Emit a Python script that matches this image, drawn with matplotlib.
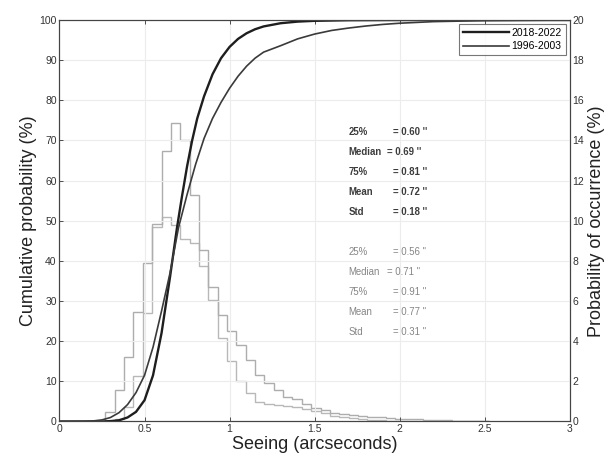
import numpy as np
import matplotlib
matplotlib.use("Agg")
import matplotlib.pyplot as plt

plt.rcParams["font.family"] = ["Liberation Sans", "DejaVu Sans"]

# --- histogram (probability of occurrence, %, right axis) ---
bin_edges = [0.27, 0.325, 0.38, 0.435, 0.49, 0.545, 0.60, 0.655, 0.71, 0.765,
             0.82, 0.875, 0.93, 0.985, 1.04, 1.095, 1.15, 1.205, 1.26, 1.315,
             1.37, 1.425, 1.48, 1.535, 1.59, 1.645, 1.70, 1.755, 1.81, 1.865,
             1.92, 1.975, 2.03, 2.085, 2.14, 2.195, 2.25, 2.305, 2.36, 2.415,
             2.47, 2.525]
hist_a = [0.48, 1.56, 3.22, 5.46, 7.88, 9.84, 13.48, 14.86, 14.02, 11.28,
          8.54, 6.72, 5.30, 4.50, 3.80, 3.06, 2.32, 1.92, 1.56, 1.24,
          1.12, 0.88, 0.68, 0.56, 0.44, 0.36, 0.30, 0.26, 0.22, 0.20,
          0.18, 0.14, 0.12, 0.10, 0.08, 0.06, 0.05, 0.04, 0.03, 0.02,
          0.01]
hist_b = [0.0, 0.10, 0.70, 2.28, 5.40, 9.70, 10.20, 9.80, 9.10, 8.90,
          7.76, 6.06, 4.14, 3.00, 2.00, 1.42, 0.98, 0.88, 0.80, 0.76,
          0.72, 0.60, 0.50, 0.40, 0.28, 0.22, 0.16, 0.12, 0.08, 0.06,
          0.04, 0.02, 0.0, 0.0, 0.0, 0.0, 0.0, 0.0, 0.0, 0.0,
          0.0]

# --- cumulative probability (%, left axis) ---
cum_x_new = [0, 0.25, 0.30, 0.35, 0.40, 0.45, 0.50, 0.55, 0.60, 0.65, 0.69,
             0.72, 0.75, 0.78, 0.81, 0.85, 0.90, 0.95, 1.00, 1.05, 1.10,
             1.15, 1.20, 1.30, 1.40, 1.50, 1.70, 2.0, 3.0]
cum_y_new = [0, 0, 0.1, 0.3, 1.0, 2.4, 5.3, 11.5, 22, 36, 48,
             56, 63.5, 70, 75.5, 81, 86.5, 90.5, 93.3, 95.3, 96.7,
             97.7, 98.4, 99.2, 99.6, 99.8, 99.95, 100, 100]
cum_x_old = [0, 0.15, 0.20, 0.25, 0.30, 0.35, 0.40, 0.45, 0.50, 0.55, 0.60,
             0.65, 0.70, 0.75, 0.80, 0.85, 0.90, 0.95, 1.00, 1.05, 1.10,
             1.15, 1.20, 1.30, 1.40, 1.50, 1.60, 1.70, 1.80, 1.90, 2.00,
             2.20, 2.50, 3.0]
cum_y_old = [0, 0.05, 0.15, 0.4, 1.0, 2.2, 4.2, 7.2, 11.5, 18.5, 27.5,
             37, 48.3, 56.5, 64, 70.5, 75.5, 79.5, 83, 86, 88.5,
             90.5, 92, 93.6, 95.3, 96.5, 97.4, 98, 98.5, 98.9, 99.2,
             99.6, 99.85, 100]

labels = ["2018-2022", "1996-2003"]
stat_names = ["25%", "Median", "75%", "Mean", "Std"]
stats_new = ["0.60", "0.69", "0.81", "0.72", "0.18"]
stats_old = ["0.56", "0.71", "0.91", "0.77", "0.31"]

fig = plt.figure(figsize=(6.1, 4.59), dpi=100)
ax = fig.add_axes([0.0975, 0.0817, 0.8365, 0.8747])
ax2 = ax.twinx()

grid_c = "#ececec"
ax.set_xlim(0, 3)
ax.set_ylim(0, 100)
ax2.set_ylim(0, 20)
ax.set_xticks([0, 0.5, 1, 1.5, 2, 2.5, 3])
ax.set_xticklabels(["0", "0.5", "1", "1.5", "2", "2.5", "3"])
ax.set_yticks(range(0, 101, 10))
ax2.set_yticks(range(0, 21, 2))
ax.grid(True, color=grid_c, lw=0.8)
ax.set_axisbelow(True)

# histograms
ax2.stairs(hist_b, bin_edges, baseline=0, color="#b8b8b8", lw=1.0)
ax2.stairs(hist_a, bin_edges, baseline=0, color="#adadad", lw=1.0)

# cumulative curves
ax.set_zorder(ax2.get_zorder() + 1)
ax.patch.set_visible(False)
ax.plot(cum_x_new, cum_y_new, color="#1e1e1e", lw=1.7, label=labels[0])
ax.plot(cum_x_old, cum_y_old, color="#3a3a3a", lw=1.2, label=labels[1])

leg = ax.legend(loc="upper right", fontsize=7.5, frameon=True, fancybox=False,
                borderaxespad=0.4, handlelength=4.4, handletextpad=0.3,
                borderpad=0.35, labelspacing=0.35)
leg.get_frame().set_edgecolor("#555555")
leg.get_frame().set_linewidth(0.8)

# statistics text
for i, (nm, v) in enumerate(zip(stat_names, stats_new)):
    y = 72.2 - 5 * i
    ax.text(1.70, y, nm, fontsize=6.9, color="#3c3c3c", fontweight="bold", va="center")
    ax.text(1.925 if nm == "Median" else 1.96, y, "= " + v + " ''", fontsize=6.9,
            color="#3c3c3c", fontweight="bold", va="center")
for i, (nm, v) in enumerate(zip(stat_names, stats_old)):
    y = 42.3 - 5 * i
    ax.text(1.70, y, nm, fontsize=6.9, color="#858585", va="center")
    ax.text(1.925 if nm == "Median" else 1.96, y, "= " + v + " ''", fontsize=6.9,
            color="#858585", va="center")

for a in (ax, ax2):
    a.tick_params(direction="in", length=3, width=0.6, labelsize=7.5,
                  colors="#333333", pad=2)
    for s in a.spines.values():
        s.set_color("#444444")
        s.set_linewidth(0.8)
ax.tick_params(top=True)

ax.set_xlabel("Seeing (arcseconds)", fontsize=13, color="#222222", labelpad=1)
ax.set_ylabel("Cumulative probability (%)", fontsize=13, color="#222222", labelpad=2)
ax2.set_ylabel("Probability of occurrence (%)", fontsize=13, color="#222222", labelpad=3)

fig.savefig("out.png", dpi=100)
